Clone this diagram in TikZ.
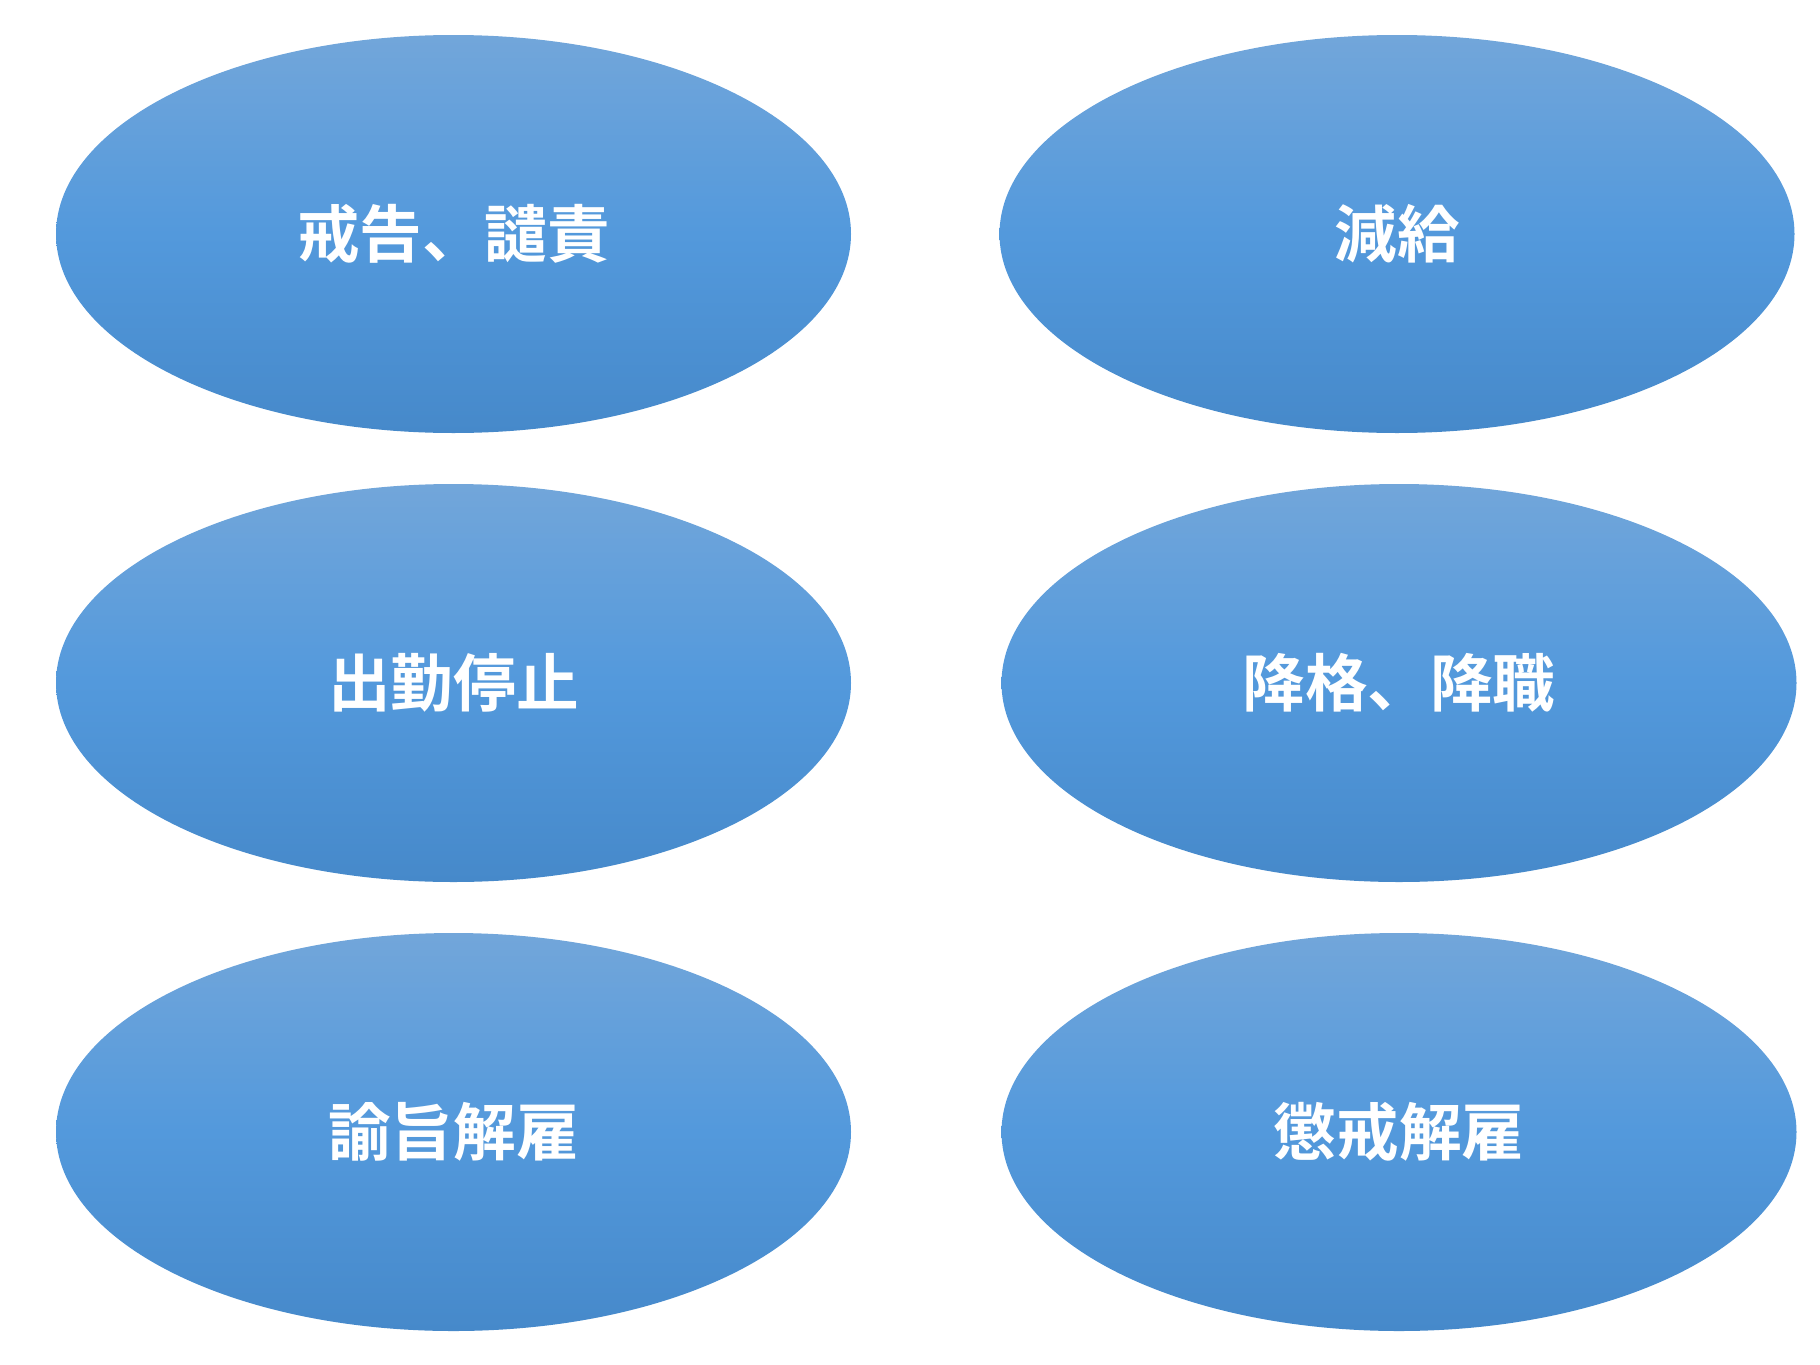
\documentclass[tikz,border=0pt]{standalone}
\usepackage{fontspec}
\newfontfamily\cjk{Noto Sans CJK JP Bold}
\usetikzlibrary{shapes.geometric}
\definecolor{topblue}{HTML}{72A6DA}
\definecolor{midblue}{HTML}{5399DC}
\definecolor{botblue}{HTML}{4689CA}
\tikzset{
  pill/.style={ellipse, inner sep=0pt, minimum width=397.5pt, minimum height=199pt,
    top color=topblue, bottom color=botblue, middle color=midblue, draw=none,
    text=white, font=\cjk\fontsize{31.3pt}{36pt}\selectfont}
}
\begin{document}
\begin{tikzpicture}[x=0.5pt,y=-0.5pt]
\useasboundingbox (0,0) rectangle (1820,1365);
\node[pill] (a) at (453.5,234) {\raisebox{2pt}{戒告、譴責}};
\node[pill] (b) at (1397,234) {\raisebox{2pt}{減給}};
\node[pill] (c) at (453.5,683) {\raisebox{2pt}{出勤停止}};
\node[pill] (d) at (1399,683) {\raisebox{2pt}{降格、降職}};
\node[pill] (e) at (453.5,1132) {\raisebox{2pt}{諭旨解雇}};
\node[pill] (f) at (1399,1132) {\raisebox{2pt}{懲戒解雇}};
\end{tikzpicture}
\end{document}
